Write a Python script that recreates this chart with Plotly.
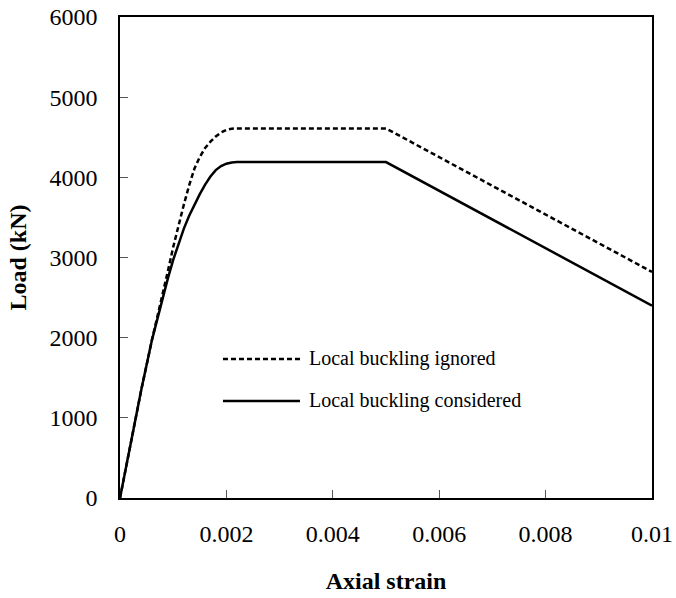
import plotly.graph_objects as go

# Axial strain sampling points
strain = [0, 0.0002, 0.0004, 0.0006, 0.0008, 0.0009, 0.0010, 0.0011,
          0.0012, 0.0013, 0.0014, 0.0015, 0.0016, 0.0017, 0.0018,
          0.0019, 0.0020, 0.0021, 0.0022, 0.0050, 0.0100]

# Load (kN) for the two models
load_ignored = [0, 680, 1350, 1970, 2520, 2830, 3130, 3400,
                3660, 3900, 4110, 4255, 4365, 4445, 4510,
                4560, 4592, 4607, 4610, 4610, 2820]
load_considered = [0, 680, 1350, 1970, 2490, 2740, 2970, 3175,
                   3360, 3520, 3660, 3790, 3910, 4010, 4090,
                   4140, 4170, 4186, 4190, 4190, 2400]

series_names = ["Local buckling ignored", "Local buckling considered"]

x_tickvals = [0, 0.002, 0.004, 0.006, 0.008, 0.01]
x_ticktext = ["0", "0.002", "0.004", "0.006", "0.008", "0.01"]
y_tickvals = [0, 1000, 2000, 3000, 4000, 5000, 6000]
y_ticktext = ["0", "1000", "2000", "3000", "4000", "5000", "6000"]

FONT = "Liberation Serif, Times New Roman, serif"
DASH = "5px,3px"

fig = go.Figure()
fig.add_trace(go.Scatter(x=strain, y=load_ignored, mode="lines",
                         name=series_names[0], showlegend=False,
                         line=dict(color="black", width=2.5, dash=DASH)))
fig.add_trace(go.Scatter(x=strain, y=load_considered, mode="lines",
                         name=series_names[1], showlegend=False,
                         line=dict(color="black", width=2.5)))

# Hand-drawn key inside the plotting area
key_rows = [(0.289, DASH), (0.2017, "solid")]
for (ky, dash), label in zip(key_rows, series_names):
    fig.add_shape(type="line", xref="paper", yref="paper",
                  x0=0.1936, x1=0.3383, y0=ky, y1=ky,
                  line=dict(color="black", width=2.5, dash=dash))
    fig.add_annotation(xref="paper", yref="paper", x=0.3515, y=ky,
                       text=label, showarrow=False, xanchor="left",
                       yanchor="middle",
                       font=dict(family=FONT, size=20, color="black"))

axis_common = dict(
    showgrid=False, zeroline=False, automargin=False,
    showline=True, linecolor="black", linewidth=1.5, mirror=True,
    ticks="inside", ticklen=8, tickwidth=1, tickcolor="#555555",
    tickfont=dict(family=FONT, size=24, color="black"),
)

fig.update_xaxes(range=[0, 0.01], tickvals=x_tickvals, ticktext=x_ticktext,
                 ticklabelstandoff=13,
                 title=dict(text="<b>Axial strain</b>", standoff=27,
                            font=dict(family=FONT, size=24, color="black")),
                 **axis_common)
fig.update_yaxes(range=[0, 6000], tickvals=y_tickvals, ticktext=y_ticktext,
                 ticklabelstandoff=16,
                 title=dict(text="<b>Load (kN)</b>", standoff=16,
                            font=dict(family=FONT, size=24, color="black")),
                 **axis_common)

fig.update_layout(
    width=676, height=598,
    margin=dict(l=120, r=24, t=17, b=100),
    paper_bgcolor="white", plot_bgcolor="white",
    font=dict(family=FONT, color="black"),
)

fig.write_html("out.html")
